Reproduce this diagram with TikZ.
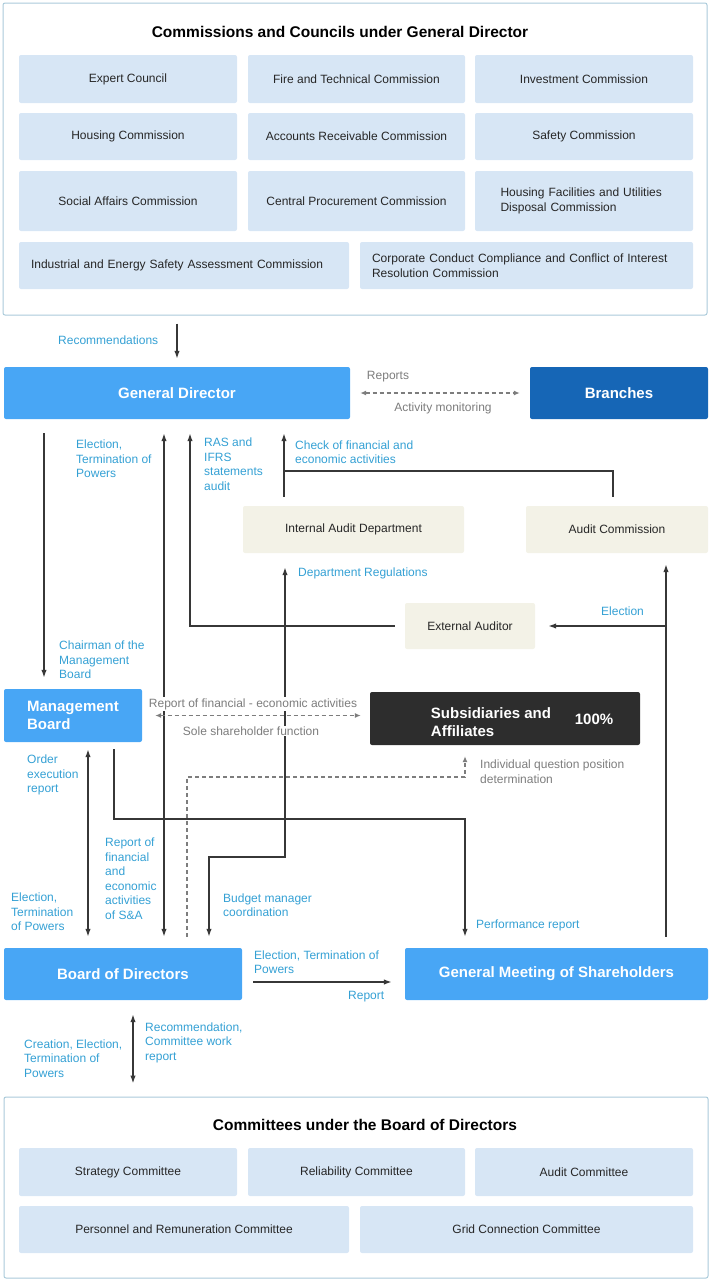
\documentclass[tikz,border=0pt]{standalone}
\usepackage{fontspec}
\setmainfont{Liberation Sans}
\usetikzlibrary{arrows.meta}
\definecolor{comfill}{RGB}{215,230,245}
\definecolor{framecol}{RGB}{170,202,218}
\definecolor{mainblue}{RGB}{72,166,245}
\definecolor{branchblue}{RGB}{22,102,182}
\definecolor{beige}{RGB}{243,242,231}
\definecolor{sadark}{RGB}{45,45,45}
\definecolor{labblue}{RGB}{52,160,212}
\definecolor{labgray}{RGB}{125,125,125}
\definecolor{linecol}{RGB}{55,55,55}
\newcommand{\txtfont}{\fontsize{12}{14.5}\selectfont}
\newcommand{\boldfont}{\fontsize{15}{18}\selectfont\bfseries}
\begin{document}
\begin{tikzpicture}[x=1pt,y=-1pt,
  frame/.style={draw=framecol,line width=1pt,rounded corners=2pt,inner sep=0pt},
  ttl/.style={font=\fontsize{15.5}{18}\selectfont\bfseries,text=black},
  combox/.style={fill=comfill,rounded corners=2pt,inner sep=0pt,font=\txtfont,text=black!85,align=center},
  mainbox/.style={fill=mainblue,rounded corners=2pt,inner sep=0pt,font=\boldfont,text=white,align=left},
  auditbox/.style={fill=beige,rounded corners=2pt,inner sep=0pt,font=\txtfont,text=black!85},
  lab/.style={anchor=west,inner sep=0pt,align=left,font=\txtfont,text=labblue},
  glab/.style={inner sep=1pt,align=left,font=\txtfont,text=labgray,fill=white},
  conn/.style={draw=linecol,line width=1.4pt,>={Latex[length=8pt,width=5.5pt]}},
  dconn/.style={draw=labgray,line width=1.3pt,dash pattern=on 4pt off 3pt,>={Latex[length=6pt,width=5pt]}}]
\useasboundingbox (0,0) rectangle (711,1280);
% commissions and councils
\node[frame,minimum width=704pt,minimum height=312pt] (comframe) at (355,159) {};
\node[ttl] (comtitle) at (340,32) {Commissions and Councils under General Director};
\node[combox,minimum width=218pt,minimum height=48pt] (expert) at (128,79) {Expert Council};
\node[combox,minimum width=217pt,minimum height=48pt] (fire) at (356.5,79) {Fire and Technical Commission};
\node[combox,minimum width=218pt,minimum height=48pt] (invest) at (584,79) {Investment Commission};
\node[combox,minimum width=218pt,minimum height=47pt] (housing) at (128,136.5) {Housing Commission};
\node[combox,minimum width=217pt,minimum height=47pt] (accounts) at (356.5,136.5) {Accounts Receivable Commission};
\node[combox,minimum width=218pt,minimum height=47pt] (safety) at (584,136.5) {Safety Commission};
\node[combox,minimum width=218pt,minimum height=60pt] (social) at (128,201) {Social Affairs Commission};
\node[combox,minimum width=217pt,minimum height=60pt] (procure) at (356.5,201) {Central Procurement Commission};
\node[combox,minimum width=218pt,minimum height=60pt,text width=193pt,align=left] (utilities) at (584,201) {\hspace*{13pt}Housing Facilities and Utilities\\\hspace*{13pt}Disposal Commission};
\node[combox,minimum width=330pt,minimum height=47pt,text width=306pt,align=left] (energy) at (184,265.5) {Industrial and Energy Safety Assessment Commission};
\node[combox,minimum width=333pt,minimum height=47pt,text width=309pt,align=left] (conduct) at (526.5,265.5) {Corporate Conduct Compliance and Conflict of Interest\\Resolution Commission};
%
\node[mainbox,minimum width=346pt,minimum height=52pt,align=center] (gd) at (177,393) {General Director};
\node[mainbox,fill=branchblue,minimum width=178pt,minimum height=52pt,align=center] (br) at (619,393) {Branches};
\node[auditbox,minimum width=221pt,minimum height=47pt] (iad) at (353.5,529.5) {Internal Audit Department};
\node[auditbox,minimum width=182pt,minimum height=47pt] (ac) at (617,529.5) {Audit Commission};
\node[auditbox,minimum width=130pt,minimum height=46pt] (ea) at (470,626) {External Auditor};
\node[mainbox,minimum width=138pt,minimum height=53pt] (mb) at (73,715.5) {Management\\Board};
\node[fill=sadark,rounded corners=2pt,minimum width=270pt,minimum height=53pt] (sa) at (505,718.5) {};
\node[font=\boldfont,text=white,align=left,inner sep=0pt] (satxt) at (491,722) {Subsidiaries and\\Affiliates};
\node[font=\boldfont,text=white,inner sep=0pt] (sapct) at (594,719) {100\%};
\node[mainbox,minimum width=238pt,minimum height=52pt,align=center] (bod) at (123,974) {Board of Directors};
\node[mainbox,minimum width=303pt,minimum height=52pt,align=center] (gms) at (556.5,974) {General Meeting of Shareholders};
% committees
\node[frame,minimum width=704pt,minimum height=181pt] (cmtframe) at (356,1187.5) {};
\node[ttl] (cmttitle) at (365,1125) {Committees under the Board of Directors};
\node[combox,minimum width=218pt,minimum height=48pt] (strategy) at (128,1172) {Strategy Committee};
\node[combox,minimum width=217pt,minimum height=48pt] (reliab) at (356.5,1172) {Reliability Committee};
\node[combox,minimum width=218pt,minimum height=48pt] (auditc) at (584,1172) {Audit Committee};
\node[combox,minimum width=330pt,minimum height=47pt] (personnel) at (184,1229.5) {Personnel and Remuneration Committee};
\node[combox,minimum width=333pt,minimum height=47pt] (grid) at (526.5,1229.5) {Grid Connection Committee};
% connector levels
\coordinate (xa) at (44,0);
\coordinate (xb) at (88,0);
\coordinate (xc) at (114,0);
\coordinate (xd) at (164,0);
\coordinate (xe) at (187,0);
\coordinate (xf) at (190,0);
\coordinate (xg) at (209,0);
\coordinate (xh) at (284,0);
\coordinate (xj) at (613,0);
\coordinate (xk) at (666,0);
\coordinate (xl) at (133,0);
\coordinate (chk) at (284,471);
\coordinate (bud) at (285,857);
\coordinate (perf) at (465,819);
\coordinate (indiv) at (465,777);
% connectors
\draw[conn,->,shorten <=8pt,shorten >=8pt] (comframe.south -| gd.north) -- (gd.north);
\draw[dconn,<->,shorten <=10pt,shorten >=10pt] (gd.east) -- (br.west);
\draw[conn,->,shorten <=14pt,shorten >=11pt] (gd.south -| xa) -- (mb.north -| xa);
\draw[conn,<->,shorten <=14pt,shorten >=11pt] (gd.south -| xd) -- (bod.north -| xd);
\draw[conn,->,shorten <=10pt,shorten >=14pt] (ea.west) -| (gd.south -| xf);
\draw[conn,->,shorten <=9pt,shorten >=14pt] (iad.north -| xh) -- (gd.south -| xh);
\draw[conn,shorten <=9pt] (ac.north -| xj) |- (chk);
\draw[conn,<->,shorten <=11pt,shorten >=14pt] (bod.north -| xg) |- (bud) -- (iad.south -| bud);
\draw[conn,->,shorten <=7pt,shorten >=11pt] (mb.south -| xc) |- (perf) -- (gms.north -| perf);
\draw[conn,<->,shorten <=7pt,shorten >=11pt] (mb.south -| xb) -- (bod.north -| xb);
\draw[conn,->,shorten <=11pt,shorten >=11pt] (gms.north -| xk) -- (ac.south -| xk);
\draw[conn,->,shorten >=13pt] (ea.east -| xk) -- (ea.east);
\draw[conn,->,shorten <=11pt,shorten >=13pt] ([yshift=-8pt]bod.east) -- ([yshift=-8pt]bod.east -| gms.west);
\draw[conn,<->,shorten <=14pt,shorten >=13pt] (bod.south -| xl) -- (cmtframe.north -| xl);
\draw[dconn,->,shorten <=11pt,shorten >=11pt] (bod.north -| xe) |- (indiv) -- (sa.south -| indiv);
\draw[dconn,<->,shorten <=13pt,shorten >=9pt] (mb.east) -- (mb.east -| sa.west);
% labels
\node[lab] (lrec) at (58,340) {Recommendations};
\node[glab] (lrep) at (388,377) {Reports};
\node[glab] (lmon) at (443,408) {Activity monitoring};
\node[lab] (lgdel) at (76,459) {Election,\\Termination of\\Powers};
\node[lab] (lras) at (204,464) {RAS and\\IFRS\\statements\\audit};
\node[lab] (lchk) at (295,452) {Check of financial and\\economic activities};
\node[lab] (ldep) at (298,573) {Department Regulations};
\node[lab] (lacel) at (601,611) {Election};
\node[lab] (lchair) at (59,660) {Chairman of the\\Management\\Board};
\node[glab] (lsarep) at (253,704) {Report of financial - economic activities};
\node[glab] (lsole) at (251,731) {Sole shareholder function};
\node[glab,anchor=west,fill=none,inner sep=0pt] (lindiv) at (480,771.5) {Individual question position\\determination};
\node[lab] (lorder) at (27,775) {Order\\execution\\report};
\node[lab] (lsaact) at (105,878.5) {Report of\\financial\\and\\economic\\activities\\of S\&A};
\node[lab] (lmbel) at (11,912) {Election,\\Termination\\of Powers};
\node[lab] (lbud) at (223,905) {Budget manager\\coordination};
\node[lab] (lperf) at (476,925) {Performance report};
\node[lab] (lgmsel) at (254,962) {Election, Termination of\\Powers};
\node[lab] (lgmsrep) at (348,997) {Report};
\node[lab] (lcre) at (24,1058.5) {Creation, Election,\\Termination of\\Powers};
\node[lab] (lcmt) at (145,1042.5) {Recommendation,\\Committee work\\report};
\end{tikzpicture}
\end{document}
